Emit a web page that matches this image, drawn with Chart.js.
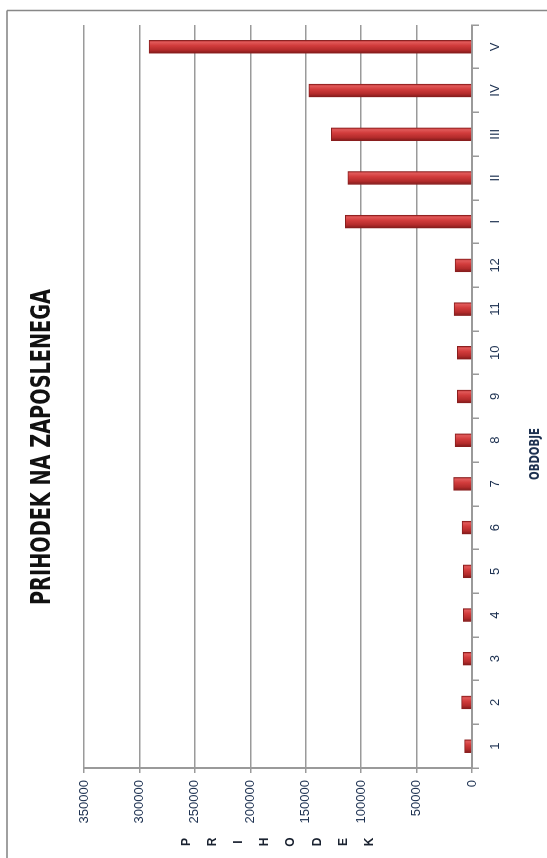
<!DOCTYPE html>
<html>
<head>
<meta charset="utf-8">
<script src="https://cdn.jsdelivr.net/npm/chart.js@4"></script>
<style>
  html, body { margin: 0; padding: 0; background: #fff; overflow: hidden; }
  #wrap { position: relative; width: 547px; height: 858px; }
  #chart { position: absolute; left: 0; top: 0; transform-origin: 0 0; transform: rotate(-90deg) translateX(-858px); }
</style>
</head>
<body>
<div id="wrap"><canvas id="chart" width="858" height="547"></canvas></div>
<script>
// chart is laid out normally then turned on its side, like the scan
let categories = ["1", "2", "3", "4", "5", "6", "7", "8", "9", "10", "11", "12", "I", "II", "III", "IV", "V"];
let income = [6600, 9300, 8000, 7800, 7800, 9000, 16600, 15300, 13200, 13200, 16200, 15300, 114300, 111900, 126900, 147300, 291400];
let valueTicks = [0, 50000, 100000, 150000, 200000, 250000, 300000, 350000];
let chartTitle = "PRIHODEK NA ZAPOSLENEGA";
let xTitle = "OBDOBJE";
let yTitle = "PRIHODEK";

let labelColor = "#1c3050";
let gridColor = "#9a9a9a";

function barFill(context) {
  let chart = context.chart;
  let xs = chart.scales.x;
  if (!xs || context.type !== "data") return "#c83535";
  let cx = xs.getPixelForValue(context.dataIndex);
  if (!isFinite(cx)) return "#c83535";
  let g = chart.ctx.createLinearGradient(cx - 6.5, 0, cx + 6.5, 0);
  g.addColorStop(0, "#7e1a1a");
  g.addColorStop(0.25, "#b32b2b");
  g.addColorStop(0.6, "#d23c3c");
  g.addColorStop(0.85, "#e05858");
  g.addColorStop(1, "#b53030");
  return g;
}

// squeeze text to a given width (the original uses a narrow font)
function fitText(ctx, text, x, y, width) {
  let w = ctx.measureText(text).width;
  ctx.save();
  ctx.translate(x, y);
  ctx.scale(Math.min(1, width / w), 1);
  ctx.fillText(text, 0, 0);
  ctx.restore();
}

let extras = {
  id: "extras",
  beforeDraw: function (chart) {
    let ctx = chart.ctx;
    ctx.save();
    ctx.fillStyle = "#fff";
    ctx.fillRect(0, 0, chart.width, chart.height);
    // frame (only two sides show)
    ctx.strokeStyle = "#a0a0a0";
    ctx.lineWidth = 2;
    ctx.beginPath();
    ctx.moveTo(0, 7);
    ctx.lineTo(847.5, 7);
    ctx.stroke();
    ctx.strokeStyle = "#888";
    ctx.lineWidth = 1.5;
    ctx.beginPath();
    ctx.moveTo(847.5, 7);
    ctx.lineTo(847.5, 547);
    ctx.stroke();
    ctx.restore();
  },
  afterDraw: function (chart) {
    let ctx = chart.ctx;
    ctx.save();
    ctx.fillStyle = "#111";
    ctx.textAlign = "center";
    ctx.textBaseline = "middle";
    ctx.font = "bold 27px 'DejaVu Sans Condensed', 'Liberation Sans', sans-serif";
    fitText(ctx, chartTitle, 411, 43, 316);
    ctx.fillStyle = labelColor;
    ctx.font = "bold 14px 'DejaVu Sans Condensed', 'Liberation Sans', sans-serif";
    fitText(ctx, xTitle, 404, 535, 52);
    ctx.fillStyle = "#1a2230";
    ctx.font = "bold 12px 'Liberation Sans', sans-serif";
    let mid = (chart.chartArea.top + chart.chartArea.bottom) / 2;
    let step = 26.2;
    let start = mid - (yTitle.length - 1) * step / 2;
    for (let i = 0; i < yTitle.length; i++) {
      ctx.fillText(yTitle[i], 16, start + i * step);
    }
    ctx.restore();
  },
};

let chart = new Chart(document.getElementById("chart").getContext("2d"), {
  type: "bar",
  data: {
    labels: categories,
    datasets: [
      {
        label: yTitle,
        data: income,
        backgroundColor: barFill,
        borderColor: "#8a1e1e",
        borderWidth: 1,
        barThickness: 13,
      },
    ],
  },
  options: {
    responsive: false,
    animation: false,
    devicePixelRatio: 1,
    layout: { padding: { top: 84, right: 25, left: 0, bottom: 0 } },
    plugins: {
      legend: { display: false },
      tooltip: { enabled: false },
    },
    scales: {
      x: {
        offset: true,
        grid: { offset: true, drawOnChartArea: false, drawTicks: true, tickLength: 7, color: gridColor, lineWidth: 1.5 },
        border: { display: true, color: gridColor, width: 2 },
        ticks: { color: labelColor, font: { family: "'Liberation Sans', sans-serif", size: 13 }, padding: 9, maxRotation: 0, autoSkip: false },
        afterFit: function (scale) { scale.height = 75; },
      },
      y: {
        min: 0,
        max: 350000,
        afterBuildTicks: function (scale) {
          scale.ticks = valueTicks.map(function (v) { return { value: v }; });
        },
        grid: { color: gridColor, lineWidth: 1.5, tickLength: 5 },
        border: { display: true, color: gridColor, width: 2 },
        ticks: {
          color: labelColor,
          font: { family: "'Liberation Sans', sans-serif", size: 13 },
          padding: 7,
          callback: function (v) { return String(v); },
        },
        afterFit: function (scale) { scale.width = 90; },
      },
    },
  },
  plugins: [extras],
});
</script>
</body>
</html>
